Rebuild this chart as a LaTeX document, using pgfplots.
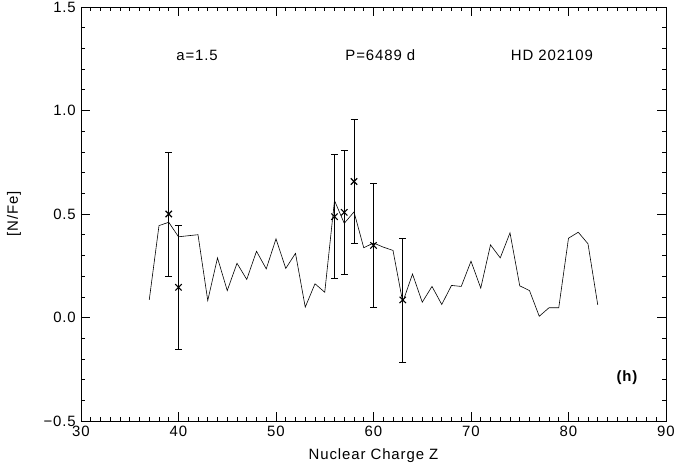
\documentclass[border=0pt]{standalone}
\usepackage{pgfplots}
\pgfplotsset{compat=1.18}
\usepackage{fontspec}
\setmainfont[LetterSpace=6]{Liberation Sans}
\begin{document}
\fontsize{15}{17}\selectfont
\begin{tikzpicture}[font=\fontsize{15}{17}\selectfont]
\begin{axis}[
  scale only axis,
  width=585bp, height=414bp,
  xmin=30, xmax=90, ymin=-0.5, ymax=1.5,
  xtick={30,40,...,90},
  minor x tick num=9,
  ytick={-0.5,0,0.5,1,1.5},
  yticklabels={−0.5,0.0,0.5,1.0,1.5},
  minor y tick num=4,
  tick align=inside,
  major tick length=9bp,
  minor tick length=4.5bp,
  tick style={black, line width=0.6pt},
  axis line style={line width=0.7pt},
  /pgf/number format/assume math mode=true,
  tick label style={font=\fontsize{15}{17}\selectfont},
  clip=false,
]
\addplot[black, line width=0.6pt, mark=none] coordinates {
(37,0.085) (38,0.444) (39,0.46) (40,0.39) (42,0.40) (43,0.082) (44,0.288)
(45,0.13) (46,0.262) (47,0.184) (48,0.32) (49,0.235) (50,0.38) (51,0.237)
(52,0.31) (53,0.05) (54,0.163) (55,0.122) (56,0.565) (57,0.455) (58,0.51)
(59,0.337) (60,0.36) (61,0.34) (62,0.324) (63,0.074) (64,0.21) (65,0.074)
(66,0.15) (67,0.063) (68,0.155) (69,0.15) (70,0.272) (71,0.142) (72,0.351)
(73,0.288) (74,0.409) (75,0.153) (76,0.13) (77,0.006) (78,0.047) (79,0.047)
(80,0.383) (81,0.412) (82,0.356) (83,0.061)
};
\addplot[black, line width=0.6pt, only marks, mark=x, mark size=4.5bp,
  mark options={line width=1.1pt},
  error bars/.cd, y dir=both, y explicit,
  error bar style={line width=0.6pt},
  error mark options={rotate=90, mark size=3.5bp, line width=0.6pt}]
  coordinates {
(39,0.50) +- (0,0.30)
(40,0.146) +- (0,0.30)
(56,0.487) +- (0,0.30)
(57,0.508) +- (0,0.30)
(58,0.657) +- (0,0.30)
(60,0.348) +- (0,0.30)
(63,0.085) +- (0,0.30)
};
\node at (axis cs:41.9,1.266) {a=1.5};
\node at (axis cs:60.7,1.266) {P=6489 d};
\node at (axis cs:78.3,1.266) {HD 202109};
\node[font=\fontsize{15}{17}\selectfont\bfseries] at (axis cs:86.0,-0.29) {(h)};
\node at (axis cs:60,-0.667) {Nuclear Charge Z};
\node[rotate=90] at (axis cs:23.13,0.5) {[N/Fe]};
\coordinate (sw) at (rel axis cs:0,0);
\coordinate (ne) at (rel axis cs:1,1);
\end{axis}
\pgfresetboundingbox
\path[use as bounding box] ([shift={(-81bp,-47bp)}]sw) rectangle ([shift={(21bp,7bp)}]ne);
\end{tikzpicture}
\end{document}
